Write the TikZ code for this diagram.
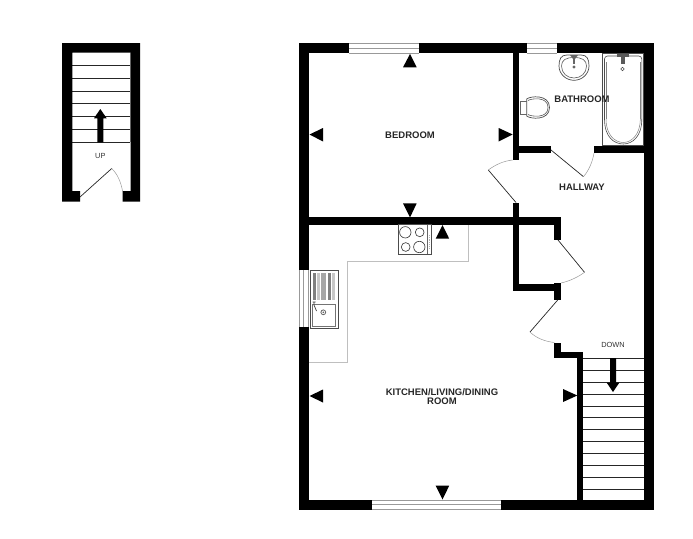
\documentclass[tikz,border=0pt]{standalone}
\usepackage{fontspec}
\setmainfont{Liberation Sans}
\tikzset{
  wall/.style={fill=black,draw=none},
  tread/.style={draw=black!85,line width=0.8pt},
  doorleaf/.style={draw=black!85,line width=0.7pt},
  doorarc/.style={draw=black!40,line width=0.5pt},
  windowline/.style={draw=black!40,line width=1pt},
  fixture/.style={draw=black!70,line width=0.7pt,fill=white},
  worktop/.style={draw=black!25,line width=0.8pt},
  marker/.style={fill=black,draw=none},
  roomlabel/.style={font=\fontsize{9.5}{9.8}\selectfont\bfseries,text=black!85,align=center,inner sep=0pt},
  smalllabel/.style={font=\fontsize{7.4}{8}\selectfont,text=black!80,inner sep=0pt}
}
\begin{document}
\begin{tikzpicture}[x=1pt,y=-1pt]
\useasboundingbox (0,0) rectangle (693,538);
% --- small stair plan
\foreach \y in {65.3,78.3,91,103.7,116.3,129.3,142.3}{\draw[tread] (72,\y) -- (130,\y);}
\draw[draw=black!40,line width=0.8pt] (130,53) -- (130,142);
\fill[wall] (62,43) -- (140,43) -- (140,201.7) -- (122.7,201.7) -- (122.7,191) -- (130.7,191) -- (130.7,52.7) -- (72.3,52.7) -- (72.3,191) -- (80,191) -- (80,201.7) -- (62,201.7) -- cycle;
\fill[marker] (97.3,142.3) -- (97.3,118.3) -- (94,118.3) -- (100.3,109) -- (106.7,118.3) -- (103.3,118.3) -- (103.3,142.3) -- cycle;
\node[smalllabel] (up) at (100.3,156) {UP};
\coordinate (dUhinge) at (80,197);
\coordinate (dUtip) at (111.7,168.5);
\coordinate (dUjamb) at (122.7,192);
\draw[doorleaf] (dUhinge) -- (dUtip);
\draw[doorarc] (dUtip) .. controls (117.5,174) and (121,182) .. (dUjamb);
% --- windows
\foreach \a/\b/\ytop in {349/418.5/43.8,527.3/557.3/43.8,371.7/500.6/500}{
  \draw[windowline] (\a,\ytop) -- (\b,\ytop) (\a,\ytop+4.7) -- (\b,\ytop+4.7) (\a,\ytop+9.6) -- (\b,\ytop+9.6);
}
\draw[windowline] (299,270) -- (299,326.7) (303.7,270) -- (303.7,326.7) (308.5,270) -- (308.5,326.7);
% --- treads of the lower stair
\foreach \y in {358.3,370.3,382.3,394,406,417.7,429.3,441.3,453.3,465.3,477,489}{\draw[tread] (583,\y) -- (644,\y);}
% --- outer walls
\fill[wall] (298.5,43.3) rectangle (349,53.3);
\fill[wall] (418.5,43.3) rectangle (527.3,53.3);
\fill[wall] (557.3,43.3) rectangle (654,53.3);
\fill[wall] (644,43.3) rectangle (654,510);
\fill[wall] (298.5,43.3) rectangle (308.7,270);
\fill[wall] (298.5,326.7) rectangle (308.7,510);
\fill[wall] (298.5,500) rectangle (371.7,510);
\fill[wall] (500.6,500) rectangle (654,510);
% --- inner walls
\fill[wall] (512.7,53) rectangle (519.3,160);
\fill[wall] (519,146) rectangle (551,153);
\fill[wall] (594,146) rectangle (644,153);
\fill[wall] (512.7,202.5) rectangle (519.3,290.7);
\fill[wall] (308,217.3) rectangle (561,224.5);
\fill[wall] (554.3,217.3) rectangle (561,240);
\fill[wall] (512.7,284) rectangle (561,290.7);
\fill[wall] (554.3,282.7) rectangle (561,300);
\fill[wall] (554.3,342.7) rectangle (561,358.3);
\fill[wall] (554.3,352) rectangle (583.3,358.3);
\fill[wall] (577.3,352) rectangle (583.3,501);
% --- doors
\coordinate (dBhinge) at (516,202.5);
\coordinate (dBtip) at (488.3,170);
\coordinate (dBjamb) at (512.7,160);
\draw[doorleaf] (dBhinge) -- (dBtip);
\draw[doorarc] (dBtip) .. controls (495,165) and (503,161) .. (dBjamb);
\coordinate (dShinge) at (551,150);
\coordinate (dStip) at (583.5,176.7);
\coordinate (dSjamb) at (594,153);
\draw[doorleaf] (dShinge) -- (dStip);
\draw[doorarc] (dStip) .. controls (589,170) and (592.5,162) .. (dSjamb);
\coordinate (dKhinge) at (558,240);
\coordinate (dKtip) at (584.5,272.3);
\coordinate (dKjamb) at (561,283);
\draw[doorleaf] (dKhinge) -- (dKtip);
\draw[doorarc] (dKtip) .. controls (578,277) and (570,281) .. (dKjamb);
\coordinate (dLhinge) at (557.7,300);
\coordinate (dLtip) at (530,332);
\coordinate (dLjamb) at (554.3,342.5);
\draw[doorleaf] (dLhinge) -- (dLtip);
\draw[doorarc] (dLtip) .. controls (536,338) and (545,341.5) .. (dLjamb);
% --- stair arrow
\fill[marker] (610,358) -- (610,382.7) -- (606.7,382.7) -- (613,392) -- (619.3,382.7) -- (616,382.7) -- (616,358) -- cycle;
\node[smalllabel] (down) at (613,344.5) {DOWN};
% --- view markers
\fill[marker] (410,54) -- (416.7,67.3) -- (403,67.3) -- cycle;
\fill[marker] (309.5,134.5) -- (323,128) -- (323,141.5) -- cycle;
\fill[marker] (512.7,134.5) -- (498.7,128) -- (498.7,141.5) -- cycle;
\fill[marker] (410,217.5) -- (403,203.3) -- (416.7,203.3) -- cycle;
\fill[marker] (442.5,225) -- (449.2,238.7) -- (435.7,238.7) -- cycle;
\fill[marker] (309.5,396) -- (323,389.5) -- (323,402.5) -- cycle;
\fill[marker] (577.3,395.5) -- (563,389) -- (563,402) -- cycle;
\fill[marker] (442.5,499.5) -- (435.7,485.7) -- (449.2,485.7) -- cycle;
% --- worktop
\draw[worktop] (309,362) -- (347.5,362) -- (347.5,261.7) -- (468.7,261.7) -- (468.7,224.5);
% --- cooker
\draw[fixture] (398.3,224.5) rectangle (431.3,254.7);
\draw[draw=black!60,line width=0.5pt] (427,225) -- (427,254);
\draw[draw=black!30,line width=0.8pt,densely dotted] (429,235) -- (429,248);
\draw[draw=black!80,line width=0.6pt] (405.3,232.3) circle (5.7) (419.7,232.3) circle (4.4) (405.7,247) circle (4.4) (419.3,247) circle (5.7);
% --- sink
\draw[fixture] (310,270) rectangle (338,328.3);
\fill[black!50] (313.3,273) rectangle (315.7,299.5);
\fill[black!22] (317.3,273) rectangle (320,299.5);
\fill[black!35] (321,273) rectangle (326,299.5);
\fill[black!50] (327.7,273) rectangle (331,299.5);
\fill[black!22] (332.3,273) rectangle (335,299.5);
\draw[draw=black!55,line width=0.5pt] (312.5,304) rectangle (335.5,326);
\draw[draw=black!75,line width=0.7pt] (312.5,302) -- (315.5,302) (314,302) -- (314,305) -- (316.5,311);
\draw[draw=black!60,line width=0.8pt] (323.3,312.3) circle (2.4);
\fill[black!60] (323.3,312.3) circle (0.9);
% --- bath
\draw[fixture] (602.3,53.5) rectangle (643.7,145);
\draw[draw=black!70,line width=0.6pt,rounded corners=3pt] (604.5,119) -- (604.5,56) -- (641.8,56) -- (641.8,119);
\draw[draw=black!70,line width=0.6pt] (641.8,119) .. controls (641.8,137) and (632,144) .. (623.3,144) .. controls (614,144) and (604.5,137) .. (604.5,119);
\draw[draw=black!50,line width=0.5pt] (606,119) -- (606,62) (640.3,62) -- (640.3,119);
\draw[draw=black!50,line width=0.5pt] (640.3,119) .. controls (640.3,135) and (631,142.5) .. (623.3,142.5) .. controls (615,142.5) and (606,135) .. (606,119);
\fill[black!65] (621.3,54) rectangle (624.8,64);
\fill[black!65] (617,54) rectangle (629,57);
\draw[draw=black!70,line width=0.6pt] (622.5,69) circle (1.7);
% --- basin
\draw[fixture] (559,66) .. controls (559,59) and (561,55) .. (567,55) -- (581,55) .. controls (587,55) and (589,59) .. (589,66) .. controls (589,74) and (582,80.3) .. (574,80.3) .. controls (566,80.3) and (559,74) .. (559,66) -- cycle;
\draw[draw=black!65,line width=0.6pt] (561.5,66) .. controls (561.5,60) and (566,57.5) .. (574,57.5) .. controls (582,57.5) and (586.5,60) .. (586.5,66) .. controls (586.5,73) and (581,78) .. (574,78) .. controls (567,78) and (561.5,73) .. (561.5,66) -- cycle;
\fill[black!60] (572.8,55) rectangle (575.2,64);
\fill[black!60] (570,55) -- (578,55) -- (575,59) -- (573,59) -- cycle;
\draw[draw=black!65,line width=0.6pt] (574,67) circle (1.1);
% --- toilet
\draw[draw=black!60,line width=0.6pt,fill=white] (520,101) rectangle (527,114.3);
\draw[fixture] (526.7,99) .. controls (530,96) and (549.5,94) .. (549.5,107.5) .. controls (549.5,121) and (530,119) .. (526.7,116) -- cycle;
\draw[draw=black!65,line width=0.6pt] (528,100.5) .. controls (531,98.5) and (548,96) .. (548,107.5) .. controls (548,119) and (531,116.5) .. (528,114.5);
% --- room labels
\node[roomlabel] (bedroom) at (410,135) {BEDROOM};
\node[roomlabel] (bathroom) at (582,99.3) {BATHROOM};
\node[roomlabel] (hallway) at (582,187.3) {HALLWAY};
\node[roomlabel] (kitchen) at (442,396.5) {KITCHEN/LIVING/DINING\\ROOM};
\end{tikzpicture}
\end{document}
